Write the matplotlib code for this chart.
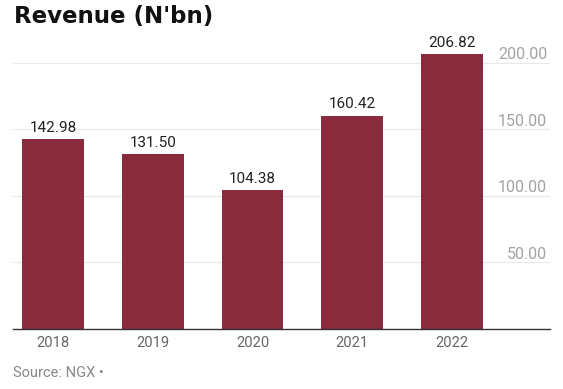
import matplotlib
matplotlib.use("Agg")
import matplotlib.pyplot as plt

years = ["2018", "2019", "2020", "2021", "2022"]
revenue = [142.98, 131.50, 104.38, 160.42, 206.82]
yticks = [50, 100, 150, 200]

bar_color = "#8a2c3e"

fig = plt.figure(figsize=(5.63, 3.89), dpi=100)
ax = fig.add_axes([13/563, 1 - 329/389, (550-13)/563, (329-45)/389])

x = list(range(len(years)))
ax.bar(x, revenue, width=0.62, color=bar_color, zorder=3)
ax.set_xlim(-0.40, 4.98)
ax.set_ylim(0, 213.5)

for t in yticks:
    ax.axhline(t, color="#e8e8e8", lw=0.8, zorder=1)
    ax.annotate(f"{t:.2f}", xy=(1, t), xycoords=("axes fraction", "data"),
                xytext=(-2, 6), textcoords="offset points",
                ha="right", va="center", fontsize=11.5, color="#a3a3a3",
                family="Roboto")

for xi, v in zip(x, revenue):
    ax.annotate(f"{v:.2f}", xy=(xi, v), xytext=(0, 3), textcoords="offset points",
                ha="center", va="bottom", fontsize=11, color="#222222",
                family="Roboto")

ax.set_xticks(x)
ax.set_xticklabels(years, fontsize=10.6, color="#666666", family="Roboto")
ax.tick_params(axis="x", length=0, pad=5)
ax.set_yticks([])
for s in ["top", "right", "left"]:
    ax.spines[s].set_visible(False)
ax.spines["bottom"].set_color("#333333")
ax.spines["bottom"].set_linewidth(1.0)
ax.spines["bottom"].set_zorder(4)

fig.text(14/563, 1 - 16/389, "Revenue (N'bn)", fontsize=16.5, fontweight="bold",
         family="DejaVu Sans", color="#111111", va="center", ha="left")
fig.text(13/563, 1 - 373/389, "Source: NGX \u2022", fontsize=10.5, color="#888888",
         family="Roboto", va="center", ha="left")

fig.savefig("out.png", dpi=100)
